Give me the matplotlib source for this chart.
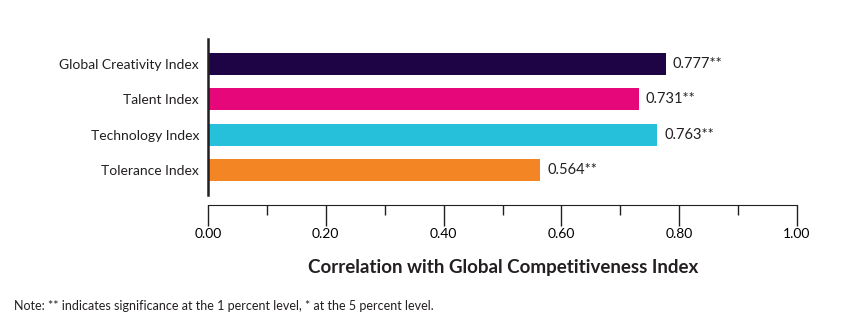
import matplotlib.pyplot as plt
import numpy as np

plt.rcParams['font.family'] = ['Lato', 'DejaVu Sans']

categories = ["Global Creativity Index", "Talent Index", "Technology Index", "Tolerance Index"]
values = [0.777, 0.731, 0.763, 0.564]
labels = ["0.777**", "0.731**", "0.763**", "0.564**"]
colors = ["#1e0445", "#e6077a", "#27c0da", "#f38524"]

fig = plt.figure(figsize=(8.48, 3.26), dpi=100)
ax = fig.add_axes([208 / 848, 1 - 195 / 326, 589 / 848, 156 / 326])

y = np.arange(len(categories))
ax.barh(y, values, height=0.62, color=colors)
for yi, v, lab in zip(y, values, labels):
    ax.text(v + 0.012, yi, lab, va="center", ha="left", fontsize=10.5, color="#231f20")

ax.set_ylim(3.7, -0.7)
ax.set_xlim(0, 1.0)
ax.set_yticks(y)
ax.set_yticklabels(categories, fontsize=10, color="#231f20")
ax.tick_params(axis="y", length=0, pad=6.5)

ax.set_xticks(np.arange(0, 1.01, 0.2))
ax.set_xticklabels(["%.2f" % t for t in np.arange(0, 1.01, 0.2)], fontsize=10.5, color="#231f20")
ax.set_xticks(np.arange(0.1, 1.0, 0.2), minor=True)
ax.tick_params(axis="x", which="major", length=15, width=1, color="#231f20", pad=2)
ax.tick_params(axis="x", which="minor", length=7, width=1, color="#231f20")

for s in ["top", "right"]:
    ax.spines[s].set_visible(False)
ax.spines["left"].set_linewidth(1.8)
ax.spines["left"].set_color("#231f20")
ax.spines["bottom"].set_position(("outward", 7))
ax.spines["bottom"].set_color("#231f20")

fig.text(503 / 848, 1 - 268 / 326, "Correlation with Global Competitiveness Index",
         ha="center", va="center", fontsize=13.5, fontweight="bold", color="#231f20")
fig.text(14 / 848, 1 - 306 / 326,
         "Note: ** indicates significance at the 1 percent level, * at the 5 percent level.",
         ha="left", va="center", fontsize=9, color="#231f20")

fig.savefig("out.png", dpi=100)
